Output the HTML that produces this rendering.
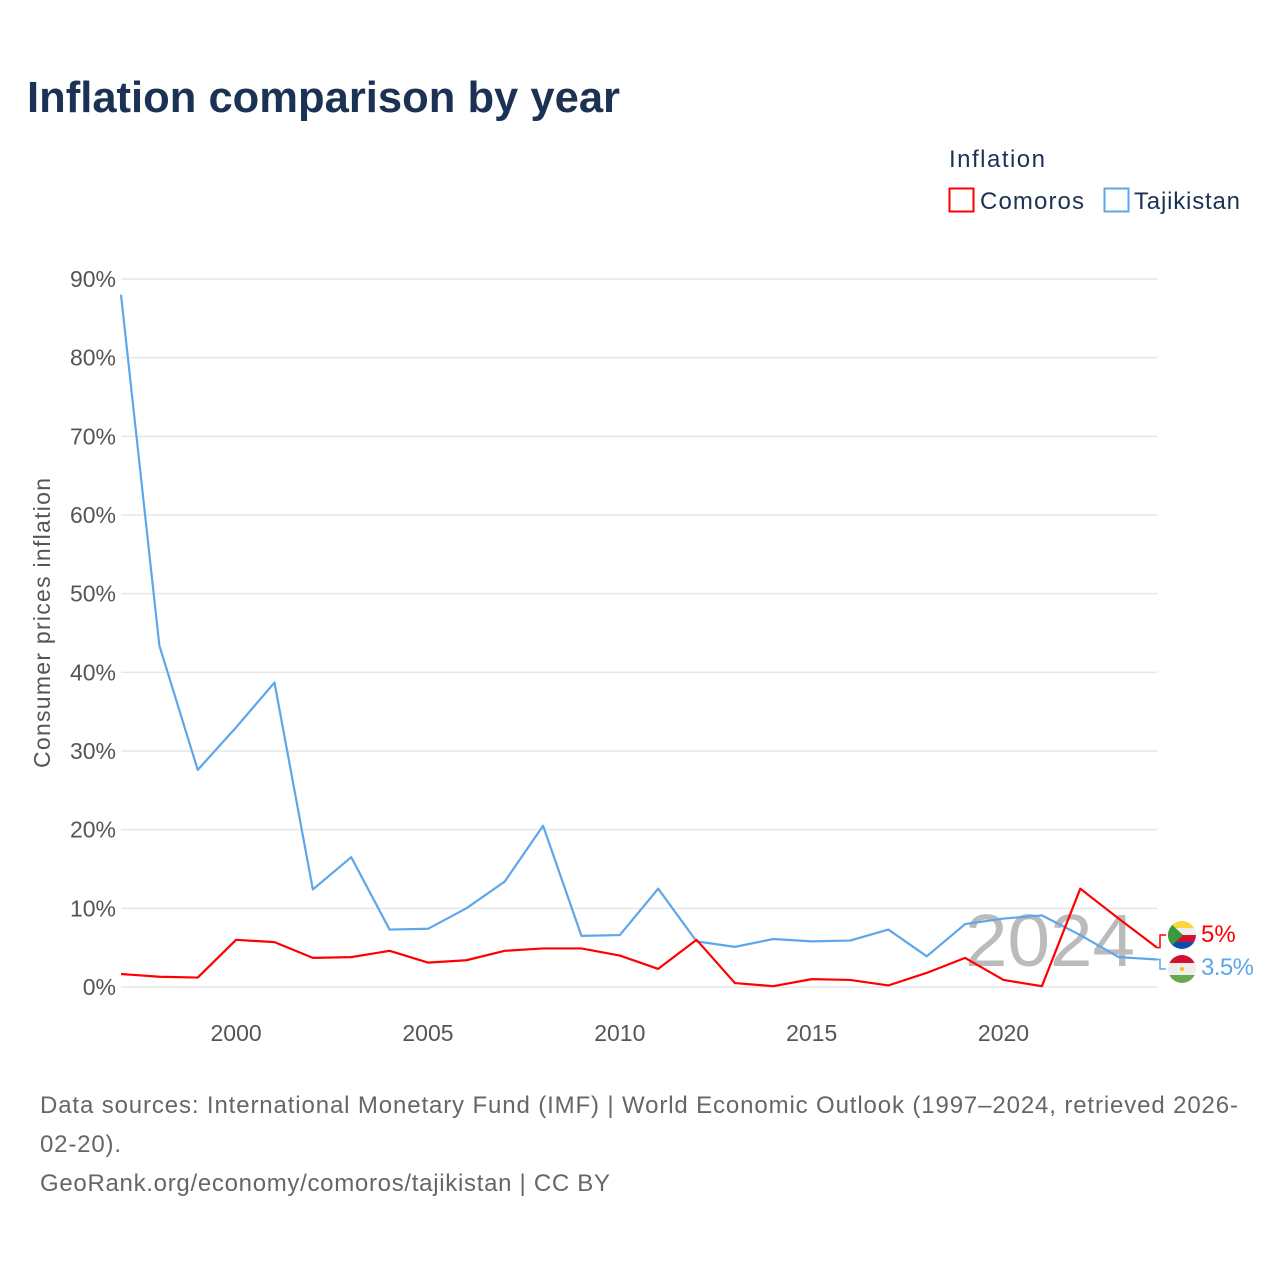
<!DOCTYPE html>
<html><head><meta charset="utf-8"><style>
body{margin:0;background:#fff;font-family:"Liberation Sans",sans-serif;}
svg text{font-family:"Liberation Sans",sans-serif;}
</style></head><body>
<svg id="c" width="1280" height="1280" xmlns="http://www.w3.org/2000/svg">
<text x="27" y="112" font-size="44" font-weight="bold" fill="#1b3254" textLength="593" lengthAdjust="spacingAndGlyphs">Inflation comparison by year</text>
<text x="949" y="167" font-size="24" fill="#1b3254" textLength="96">Inflation</text>
<g><rect x="949.5" y="188.5" width="24" height="23" fill="none" stroke="#f00" stroke-width="2"/><text x="980" y="209" font-size="24" fill="#1b3254" textLength="104">Comoros</text></g>
<g><rect x="1104.5" y="188.5" width="24" height="23" fill="none" stroke="#5ea6ea" stroke-width="2"/><text x="1134" y="209" font-size="24" fill="#1b3254" textLength="106">Tajikistan</text></g>
<text transform="translate(50,623) rotate(-90)" text-anchor="middle" font-size="23" fill="#555" textLength="290">Consumer prices inflation</text>
<g id="grid"></g><g id="yt"></g><g id="xt"></g>
<text x="1135" y="966" text-anchor="end" font-size="74" fill="#bbb" textLength="170" lengthAdjust="spacingAndGlyphs">2024</text>
<g id="lines"></g>
<g><clipPath id="cf"><circle cx="1182" cy="935" r="14"/></clipPath><g clip-path="url(#cf)"><rect x="1168" y="921" width="28" height="7" fill="#ffd63a"/><rect x="1168" y="928" width="28" height="7" fill="#eee"/><rect x="1168" y="935" width="28" height="7" fill="#d21034"/><rect x="1168" y="942" width="28" height="7" fill="#0a4fb0"/><polygon points="1168,921 1183,935 1168,949" fill="#3a9a3a"/></g></g>
<g><clipPath id="tf"><circle cx="1182" cy="969" r="14"/></clipPath><g clip-path="url(#tf)"><rect x="1168" y="955" width="28" height="8" fill="#d21034"/><rect x="1168" y="963" width="28" height="12" fill="#eee"/><rect x="1168" y="975" width="28" height="9" fill="#6aa84f"/><circle cx="1182" cy="969" r="2" fill="#f8c300"/></g></g>
<text x="1201" y="942" font-size="24" fill="#f00">5%</text>
<text x="1201" y="975" font-size="24" fill="#5ea6ea" textLength="53">3.5%</text>
<text x="40" y="1113" font-size="24" fill="#666" textLength="1198">Data sources: International Monetary Fund (IMF) | World Economic Outlook (1997–2024, retrieved 2026-</text>
<text x="40" y="1152" font-size="24" fill="#666" textLength="81">02-20).</text>
<text x="40" y="1191" font-size="24" fill="#666" textLength="570">GeoRank.org/economy/comoros/tajikistan | CC BY</text>
</svg>
<script>
const years=[1997,1998,1999,2000,2001,2002,2003,2004,2005,2006,2007,2008,2009,2010,2011,2012,2013,2014,2015,2016,2017,2018,2019,2020,2021,2022,2023,2024];
const comoros=[1.65,1.3,1.2,6.0,5.7,3.7,3.8,4.6,3.1,3.4,4.6,4.9,4.9,4.0,2.3,6.0,0.5,0.1,1.0,0.9,0.2,1.8,3.7,0.9,0.1,12.5,8.7,5.0];
const tajikistan=[88,43.4,27.6,33,38.7,12.4,16.5,7.3,7.4,10.0,13.4,20.5,6.5,6.6,12.5,5.8,5.1,6.1,5.8,5.9,7.3,3.9,8.0,8.7,9.1,6.6,3.8,3.5];
const yTicks=[0,10,20,30,40,50,60,70,80,90];
const xTicks=[2000,2005,2010,2015,2020];
const NS="http://www.w3.org/2000/svg";
const X=y=>121+(y-1997)*(1157-121)/27;
const Y=v=>987-v*(987-279)/90;
const g=id=>document.getElementById(id);
function mk(t,a,p){const e=document.createElementNS(NS,t);for(const k in a)e.setAttribute(k,a[k]);p.appendChild(e);return e;}
yTicks.forEach(v=>{
 const l=mk('line',{x1:121,x2:1157,y1:Y(v),y2:Y(v),stroke:'#e6e6e6','stroke-width':1.5},g('grid'));
 
 
 const t=mk('text',{x:116,y:Y(v)+8,'text-anchor':'end','font-size':23,fill:'#555'},g('yt'));
 t.textContent=v+'%';
 
 
});
xTicks.forEach(v=>{
 const t=mk('text',{x:X(v),y:1041,'text-anchor':'middle','font-size':23,fill:'#555'},g('xt'));
 t.textContent=v;
 
 
});
function line(vals,col,name){
 const p=mk('polyline',{points:vals.map((v,i)=>X(years[i])+','+Y(v)).join(' '),fill:'none',stroke:col,'stroke-width':2.2,'stroke-linejoin':'round'},g('lines'));
 
 
}
line(tajikistan,'#5ea6ea','line-tajikistan');
line(comoros,'#f00','line-comoros');
const c1=mk('polyline',{points:`${X(2024)},${Y(comoros[27])} 1160,${Y(comoros[27])} 1160,935 1166,935`,fill:'none',stroke:'#f00','stroke-width':1.5},g('lines'));


const c2=mk('polyline',{points:`${X(2024)},${Y(tajikistan[27])} 1160,${Y(tajikistan[27])} 1160,969 1166,969`,fill:'none',stroke:'#5ea6ea','stroke-width':1.5},g('lines'));


</script>
</body></html>
